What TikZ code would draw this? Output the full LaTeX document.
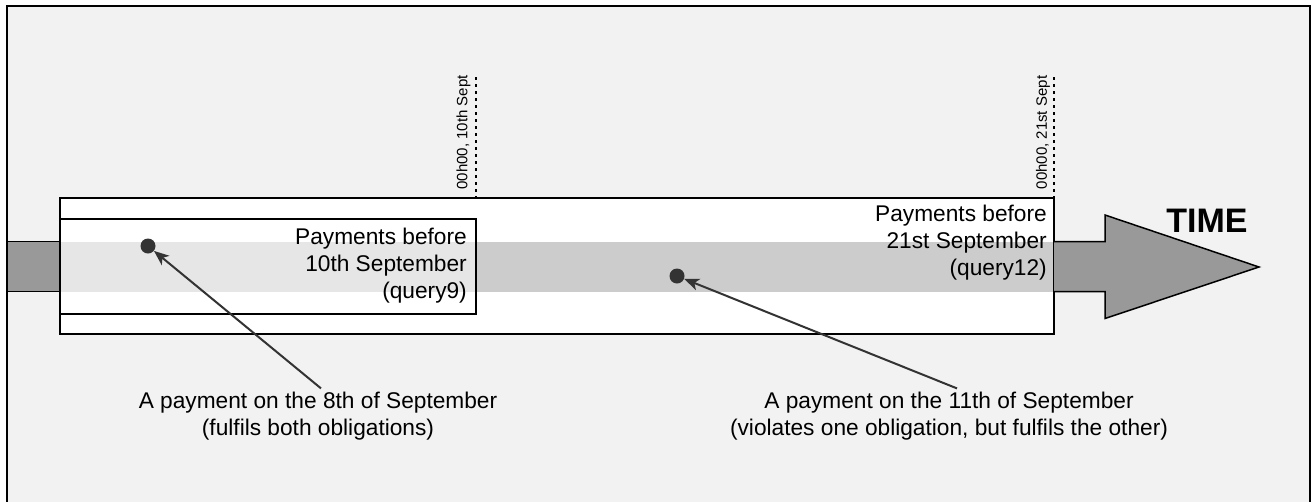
\documentclass[tikz,border=0pt]{standalone}
\usepackage{fontspec}
\setmainfont{Liberation Sans}
\usetikzlibrary{arrows.meta}
\definecolor{canvas}{HTML}{F2F2F2}
\definecolor{bandlight}{HTML}{E6E6E6}
\definecolor{banddark}{HTML}{CCCCCC}
\definecolor{arrowgrey}{HTML}{999999}
\definecolor{ink}{HTML}{333333}
\tikzset{
  bigarrow/.style={draw=black, line width=1.5pt, fill=arrowgrey, line join=miter},
  frameline/.style={draw=black, line width=1.5pt},
  tickline/.style={black, line width=2pt, dash pattern=on 3pt off 4pt},
  stamp/.style={font=\fontsize{15}{18}\selectfont, inner sep=0pt},
  label/.style={font=\fontsize{22.7}{27.2}\selectfont, inner sep=0pt},
  caption/.style={font=\fontsize{22.7}{27.2}\selectfont, align=center, inner sep=3pt},
  dot/.style={circle, fill=ink, minimum size=15pt, inner sep=0pt},
  pointer/.style={draw=ink, line width=2pt, -{Stealth[length=15pt, width=12pt, inset=4pt]}},
}
\begin{document}
\begin{tikzpicture}[x=1pt, y=-1pt]
  \useasboundingbox (0,0) rectangle (1311,501);
  \clip (0,0) rectangle (1311,501);
  \fill[white] (0,0) rectangle (1311,501);
  % outer panel
  \draw[line width=2pt, fill=canvas] (7,6) rectangle (1310,530);

  % time axis: tail on the left
  \filldraw[bigarrow] (7,241.5) rectangle (60,291.5);
  % time window body and the shaded band
  \fill[white] (60,198) rectangle (1054,334);
  \fill[bandlight] (60,241.5) rectangle (476,291.5);
  \fill[banddark] (476,241.5) rectangle (1054,291.5);
  \draw[frameline] (60,219) rectangle (476,314);
  \draw[frameline] (60,198) rectangle (1054,334);
  % time axis: head on the right
  \filldraw[bigarrow] (1054,241.5) -- (1105,241.5) -- (1105,215) -- (1259,267)
    -- (1105,318.5) -- (1105,291.5) -- (1054,291.5);
  \node[font=\fontsize{34}{40}\selectfont\bfseries, anchor=base, inner sep=0pt] (time) at (1207,232) {TIME};

  % deadlines
  \draw[tickline] (476,77) -- (476,198);
  \draw[tickline] (1054,77) -- (1054,198);
  \node[stamp, rotate=90] (cut1) at (463.5,132.5) {00h00, 10th Sept};
  \node[stamp, rotate=90] (cut2) at (1043,132.5) {00h00, 21st Sept};

  % query windows
  \node[label, align=right, anchor=north east] (q9) at (467,227.4)
    {Payments before\\10th September\\(query9)};
  \node[label, align=right, anchor=north east] (q12) at (1047,204.4)
    {Payments before\\21st September\\(query12)};

  % payments
  \node[dot] (d1) at (148,246) {};
  \node[dot] (d2) at (677,276) {};
  \node[caption, anchor=north] (t1) at (318,388.4)
    {A payment on the 8th of September\\(fulfils both obligations)};
  \node[caption, anchor=north] (t2) at (949,388.4)
    {A payment on the 11th of September\\(violates one obligation, but fulfils the other)};
  \draw[pointer] ([xshift=3pt]t1.north) -- (d1);
  \draw[pointer] ([xshift=8pt]t2.north) -- (d2);
\end{tikzpicture}
\end{document}
